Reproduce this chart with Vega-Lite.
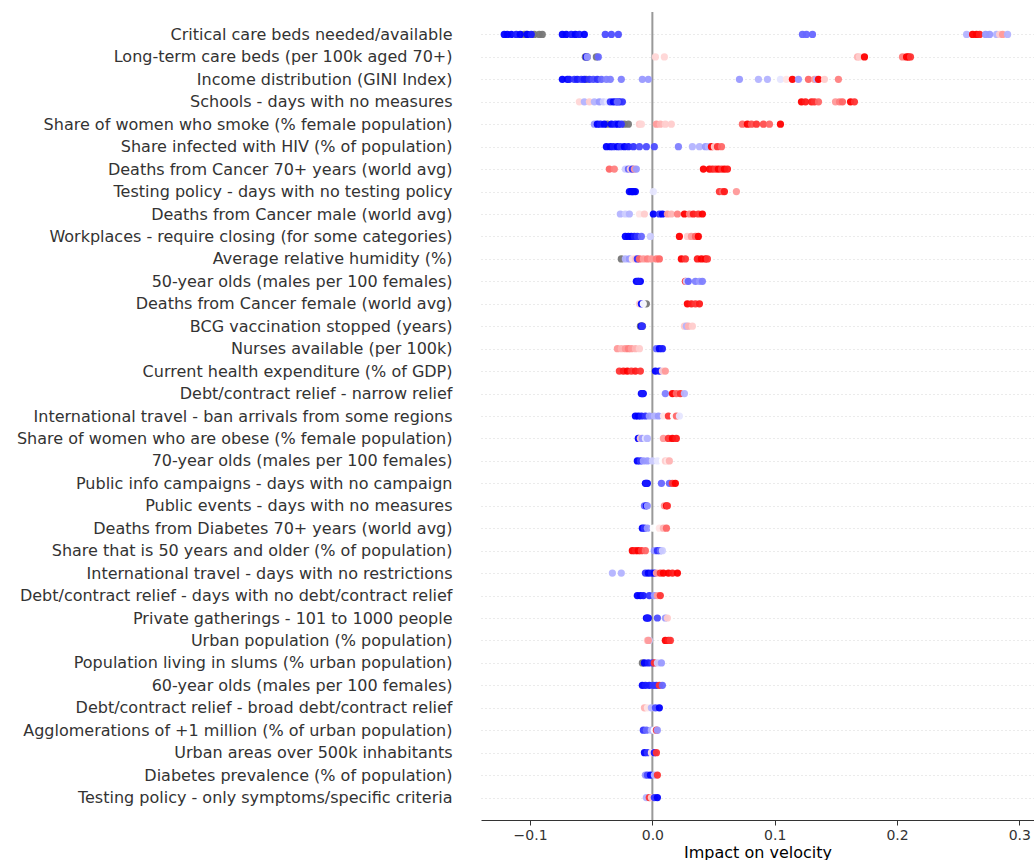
{
  "$schema": "https://vega.github.io/schema/vega-lite/v6.json",
  "width": 553,
  "height": 808,
  "autosize": {"type": "none"},
  "padding": {"left": 481, "top": 12, "right": 0, "bottom": 40},
  "background": "white",
  "config": {"view": {"stroke": null}, "font": "DejaVu Sans"},
  "datasets": {
    "features": [
      {"r": 0, "feature": "Critical care beds needed/available"},
      {"r": 1, "feature": "Long-term care beds (per 100k aged 70+)"},
      {"r": 2, "feature": "Income distribution (GINI Index)"},
      {"r": 3, "feature": "Schools - days with no measures"},
      {"r": 4, "feature": "Share of women who smoke (% female population)"},
      {"r": 5, "feature": "Share infected with HIV (% of population)"},
      {"r": 6, "feature": "Deaths from Cancer 70+ years (world avg)"},
      {"r": 7, "feature": "Testing policy - days with no testing policy"},
      {"r": 8, "feature": "Deaths from Cancer male (world avg)"},
      {"r": 9, "feature": "Workplaces - require closing (for some categories)"},
      {"r": 10, "feature": "Average relative humidity (%)"},
      {"r": 11, "feature": "50-year olds (males per 100 females)"},
      {"r": 12, "feature": "Deaths from Cancer female (world avg)"},
      {"r": 13, "feature": "BCG vaccination stopped (years)"},
      {"r": 14, "feature": "Nurses available (per 100k)"},
      {"r": 15, "feature": "Current health expenditure (% of GDP)"},
      {"r": 16, "feature": "Debt/contract relief - narrow relief"},
      {"r": 17, "feature": "International travel - ban arrivals from some regions"},
      {"r": 18, "feature": "Share of women who are obese (% female population)"},
      {"r": 19, "feature": "70-year olds (males per 100 females)"},
      {"r": 20, "feature": "Public info campaigns - days with no campaign"},
      {"r": 21, "feature": "Public events - days with no measures"},
      {"r": 22, "feature": "Deaths from Diabetes 70+ years (world avg)"},
      {"r": 23, "feature": "Share that is 50 years and older (% of population)"},
      {"r": 24, "feature": "International travel - days with no restrictions"},
      {"r": 25, "feature": "Debt/contract relief - days with no debt/contract relief"},
      {"r": 26, "feature": "Private gatherings - 101 to 1000 people"},
      {"r": 27, "feature": "Urban population (% population)"},
      {"r": 28, "feature": "Population living in slums (% urban population)"},
      {"r": 29, "feature": "60-year olds (males per 100 females)"},
      {"r": 30, "feature": "Debt/contract relief - broad debt/contract relief"},
      {"r": 31, "feature": "Agglomerations of +1 million (% of urban population)"},
      {"r": 32, "feature": "Urban areas over 500k inhabitants"},
      {"r": 33, "feature": "Diabetes prevalence (% of population)"},
      {"r": 34, "feature": "Testing policy - only symptoms/specific criteria"}
    ],
    "points": [
      {"r":0,"s":-0.1211,"v":0},{"r":0,"s":-0.1186,"v":0},{"r":0,"s":-0.1154,"v":0},{"r":0,"s":-0.1113,"v":0.05},{"r":0,"s":-0.108,"v":0},{"r":0,"s":-0.1047,"v":null},{"r":0,"s":-0.1031,"v":null},{"r":0,"s":-0.1023,"v":0},{"r":0,"s":-0.099,"v":0.05},{"r":0,"s":-0.0965,"v":null},{"r":0,"s":-0.0925,"v":null},{"r":0,"s":-0.09,"v":null},
      {"r":0,"s":-0.0736,"v":0},{"r":0,"s":-0.0704,"v":0},{"r":0,"s":-0.0663,"v":0.05},{"r":0,"s":-0.063,"v":0},{"r":0,"s":-0.0597,"v":0.05},{"r":0,"s":-0.0556,"v":0},
      {"r":0,"s":-0.0385,"v":0.15},{"r":0,"s":-0.0335,"v":0.15},{"r":0,"s":-0.0278,"v":0.15},
      {"r":0,"s":0.1227,"v":0.2},{"r":0,"s":0.126,"v":0.2},{"r":0,"s":0.1309,"v":0.2},
      {"r":0,"s":0.2569,"v":0.35},{"r":0,"s":0.2618,"v":1},{"r":0,"s":0.265,"v":1},{"r":0,"s":0.2675,"v":0.95},{"r":0,"s":0.2724,"v":0.3},{"r":0,"s":0.2757,"v":0.3},{"r":0,"s":0.2814,"v":0.35},{"r":0,"s":0.2839,"v":0.6},{"r":0,"s":0.2863,"v":0.7},{"r":0,"s":0.2904,"v":0.35},

      {"r":1,"s":-0.0548,"v":null},{"r":1,"s":-0.0532,"v":null},{"r":1,"s":-0.054,"v":0},{"r":1,"s":-0.0532,"v":0.3},{"r":1,"s":-0.0458,"v":null},{"r":1,"s":-0.0442,"v":0.2},{"r":1,"s":0.0025,"v":0.58},{"r":1,"s":0.0098,"v":0.58},{"r":1,"s":0.1677,"v":0.65},{"r":1,"s":0.1693,"v":0.6},{"r":1,"s":0.1734,"v":1},{"r":1,"s":0.2045,"v":0.75},{"r":1,"s":0.2078,"v":1},{"r":1,"s":0.2094,"v":1},{"r":1,"s":0.211,"v":0.9},

      {"r":2,"s":-0.0736,"v":0},{"r":2,"s":-0.0695,"v":0},{"r":2,"s":-0.0679,"v":0.05},{"r":2,"s":-0.0638,"v":0.1},{"r":2,"s":-0.0614,"v":0.05},{"r":2,"s":-0.0581,"v":0.1},{"r":2,"s":-0.0556,"v":0.05},{"r":2,"s":-0.054,"v":null},{"r":2,"s":-0.0515,"v":0.1},{"r":2,"s":-0.0483,"v":0.15},{"r":2,"s":-0.045,"v":0.1},{"r":2,"s":-0.0417,"v":0.2},{"r":2,"s":-0.0376,"v":0.25},{"r":2,"s":-0.0344,"v":0.25},{"r":2,"s":-0.0254,"v":0.25},{"r":2,"s":-0.0082,"v":0.3},{"r":2,"s":-0.0033,"v":0.3},
      {"r":2,"s":0.0712,"v":0.3},{"r":2,"s":0.0867,"v":0.35},{"r":2,"s":0.0941,"v":0.35},{"r":2,"s":0.1047,"v":0.45},{"r":2,"s":0.1096,"v":0.55},{"r":2,"s":0.1145,"v":1},{"r":2,"s":0.1194,"v":0.3},{"r":2,"s":0.1276,"v":0.8},{"r":2,"s":0.1325,"v":0.7},{"r":2,"s":0.1342,"v":0.35},{"r":2,"s":0.1358,"v":1},{"r":2,"s":0.1407,"v":0.6},{"r":2,"s":0.1521,"v":0.75},

      {"r":3,"s":-0.0597,"v":0.58},{"r":3,"s":-0.0556,"v":0.35},{"r":3,"s":-0.0515,"v":0.6},{"r":3,"s":-0.0474,"v":0.35},{"r":3,"s":-0.0434,"v":0.3},{"r":3,"s":-0.0401,"v":0.4},{"r":3,"s":-0.0368,"v":0.45},{"r":3,"s":-0.0344,"v":0.1},{"r":3,"s":-0.0319,"v":0},{"r":3,"s":-0.0295,"v":0.05},{"r":3,"s":-0.027,"v":0},{"r":3,"s":-0.0245,"v":0.1},{"r":3,"s":-0.0286,"v":0.2},
      {"r":3,"s":0.1219,"v":1},{"r":3,"s":0.1252,"v":0.95},{"r":3,"s":0.1301,"v":0.95},{"r":3,"s":0.1325,"v":0.9},{"r":3,"s":0.1358,"v":0.8},{"r":3,"s":0.1497,"v":0.7},{"r":3,"s":0.153,"v":0.75},{"r":3,"s":0.1554,"v":0.8},{"r":3,"s":0.162,"v":1},{"r":3,"s":0.1652,"v":0.9},

      {"r":4,"s":-0.0474,"v":0.3},{"r":4,"s":-0.045,"v":0},{"r":4,"s":-0.0425,"v":0.05},{"r":4,"s":-0.0393,"v":0},{"r":4,"s":-0.0368,"v":null},{"r":4,"s":-0.0335,"v":0},{"r":4,"s":-0.0303,"v":0.05},{"r":4,"s":-0.0278,"v":0},{"r":4,"s":-0.0254,"v":0.1},{"r":4,"s":-0.0229,"v":null},{"r":4,"s":-0.0196,"v":null},{"r":4,"s":-0.0106,"v":0.6},{"r":4,"s":-0.009,"v":0.58},{"r":4,"s":0.0033,"v":0.7},{"r":4,"s":0.0065,"v":0.65},{"r":4,"s":0.0106,"v":0.6},{"r":4,"s":0.0155,"v":0.6},
      {"r":4,"s":0.0736,"v":0.8},{"r":4,"s":0.0777,"v":1},{"r":4,"s":0.081,"v":0.85},{"r":4,"s":0.0851,"v":0.9},{"r":4,"s":0.0908,"v":0.85},{"r":4,"s":0.0957,"v":0.8},{"r":4,"s":0.1047,"v":1},

      {"r":5,"s":-0.0376,"v":0},{"r":5,"s":-0.0344,"v":0},{"r":5,"s":-0.0319,"v":0.05},{"r":5,"s":-0.0286,"v":0},{"r":5,"s":-0.0262,"v":0.1},{"r":5,"s":-0.0229,"v":0},{"r":5,"s":-0.0196,"v":0.05},{"r":5,"s":-0.0155,"v":0.1},{"r":5,"s":-0.0106,"v":0.15},{"r":5,"s":-0.0049,"v":0.15},{"r":5,"s":0.0016,"v":0.15},{"r":5,"s":0.0213,"v":0.25},{"r":5,"s":0.0327,"v":0.35},{"r":5,"s":0.0385,"v":0.35},{"r":5,"s":0.0434,"v":0.3},{"r":5,"s":0.0458,"v":0.35},{"r":5,"s":0.0483,"v":1},{"r":5,"s":0.0507,"v":0.6},{"r":5,"s":0.0532,"v":0.9},{"r":5,"s":0.0565,"v":0.8},

      {"r":6,"s":-0.0352,"v":0.8},{"r":6,"s":-0.0311,"v":0.75},{"r":6,"s":-0.0221,"v":0.4},{"r":6,"s":-0.0196,"v":0.2},{"r":6,"s":-0.018,"v":0.6},{"r":6,"s":-0.0164,"v":0.1},{"r":6,"s":-0.0147,"v":0.7},{"r":6,"s":-0.0131,"v":0.3},{"r":6,"s":0.0417,"v":1},{"r":6,"s":0.0466,"v":1},{"r":6,"s":0.0491,"v":0.95},{"r":6,"s":0.0516,"v":0.9},{"r":6,"s":0.054,"v":1},{"r":6,"s":0.0565,"v":0.9},{"r":6,"s":0.0589,"v":1},{"r":6,"s":0.0614,"v":0.95},

      {"r":7,"s":-0.0188,"v":0},{"r":7,"s":-0.0172,"v":0},{"r":7,"s":-0.0155,"v":0},{"r":7,"s":-0.0139,"v":0},{"r":7,"s":-0.0164,"v":0},{"r":7,"s":0.0008,"v":0.45},{"r":7,"s":0.0548,"v":0.9},{"r":7,"s":0.0573,"v":0.8},{"r":7,"s":0.0589,"v":0.95},{"r":7,"s":0.0687,"v":0.7},

      {"r":8,"s":-0.0262,"v":0.35},{"r":8,"s":-0.0221,"v":0.4},{"r":8,"s":-0.0188,"v":0.35},{"r":8,"s":-0.0106,"v":0.55},{"r":8,"s":-0.0065,"v":0.6},{"r":8,"s":0.0008,"v":0},{"r":8,"s":0.0057,"v":0.1},{"r":8,"s":0.0082,"v":0},{"r":8,"s":0.0123,"v":0.7},{"r":8,"s":0.0155,"v":0.65},{"r":8,"s":0.0205,"v":0.75},{"r":8,"s":0.0262,"v":1},{"r":8,"s":0.0303,"v":0.75},{"r":8,"s":0.0335,"v":0.95},{"r":8,"s":0.0376,"v":0.9},{"r":8,"s":0.0409,"v":1},

      {"r":9,"s":-0.0221,"v":0},{"r":9,"s":-0.0196,"v":0},{"r":9,"s":-0.0172,"v":0},{"r":9,"s":-0.0147,"v":0.05},{"r":9,"s":-0.0123,"v":0.1},{"r":9,"s":-0.009,"v":0.2},{"r":9,"s":-0.0016,"v":0.4},{"r":9,"s":0.0221,"v":1},{"r":9,"s":0.0286,"v":0.6},{"r":9,"s":0.0319,"v":0.7},{"r":9,"s":0.0352,"v":0.8},{"r":9,"s":0.0376,"v":1},

      {"r":10,"s":-0.0254,"v":null},{"r":10,"s":-0.0221,"v":0.35},{"r":10,"s":-0.0188,"v":0.3},{"r":10,"s":-0.0164,"v":0.55},{"r":10,"s":-0.0139,"v":0.6},{"r":10,"s":-0.0123,"v":0.1},{"r":10,"s":-0.0106,"v":0.8},{"r":10,"s":-0.0074,"v":0.7},{"r":10,"s":-0.0041,"v":0.75},{"r":10,"s":-0.0008,"v":0.7},{"r":10,"s":0.0033,"v":0.75},{"r":10,"s":0.0057,"v":0.8},{"r":10,"s":0.0237,"v":1},{"r":10,"s":0.027,"v":0.9},{"r":10,"s":0.0368,"v":0.95},{"r":10,"s":0.0401,"v":1},{"r":10,"s":0.0434,"v":1},{"r":10,"s":0.045,"v":0.9},

      {"r":11,"s":-0.0131,"v":0},{"r":11,"s":-0.0115,"v":0},{"r":11,"s":-0.0098,"v":0},{"r":11,"s":-0.0115,"v":0.05},{"r":11,"s":0.027,"v":0.9},{"r":11,"s":0.0278,"v":0.4},{"r":11,"s":0.0294,"v":0.2},{"r":11,"s":0.0352,"v":0.25},{"r":11,"s":0.0385,"v":0.3},{"r":11,"s":0.0409,"v":0.25},

      {"r":12,"s":-0.0106,"v":0.6},{"r":12,"s":-0.009,"v":0},{"r":12,"s":-0.0074,"v":0.5},{"r":12,"s":-0.0049,"v":null},{"r":12,"s":0.0286,"v":1},{"r":12,"s":0.0319,"v":0.95},{"r":12,"s":0.0352,"v":0.9},{"r":12,"s":0.0385,"v":0.95},

      {"r":13,"s":-0.0098,"v":null},{"r":13,"s":-0.0082,"v":null},{"r":13,"s":-0.009,"v":0},{"r":13,"s":-0.0082,"v":0.1},{"r":13,"s":0.0262,"v":0.6},{"r":13,"s":0.0278,"v":0.35},{"r":13,"s":0.0294,"v":0.65},{"r":13,"s":0.0327,"v":0.6},

      {"r":14,"s":-0.0286,"v":0.7},{"r":14,"s":-0.0254,"v":0.65},{"r":14,"s":-0.0221,"v":0.7},{"r":14,"s":-0.0196,"v":0.75},{"r":14,"s":-0.0172,"v":0.7},{"r":14,"s":-0.0139,"v":0.65},{"r":14,"s":-0.0106,"v":0.6},{"r":14,"s":0.0033,"v":0.2},{"r":14,"s":0.0057,"v":0},{"r":14,"s":0.0082,"v":0.05},

      {"r":15,"s":-0.027,"v":0.9},{"r":15,"s":-0.0237,"v":0.95},{"r":15,"s":-0.0205,"v":1},{"r":15,"s":-0.0172,"v":0.9},{"r":15,"s":-0.0139,"v":0.95},{"r":15,"s":-0.0098,"v":0.9},{"r":15,"s":0.0025,"v":0},{"r":15,"s":0.0057,"v":0.05},{"r":15,"s":0.0082,"v":0.6},{"r":15,"s":0.0106,"v":0.7},

      {"r":16,"s":-0.009,"v":0},{"r":16,"s":-0.0074,"v":0},{"r":16,"s":-0.0082,"v":0.05},{"r":16,"s":0.0106,"v":0.25},{"r":16,"s":0.0164,"v":1},{"r":16,"s":0.0196,"v":0.8},{"r":16,"s":0.0229,"v":0.9},{"r":16,"s":0.0262,"v":0.35},

      {"r":17,"s":-0.0139,"v":0},{"r":17,"s":-0.0115,"v":0},{"r":17,"s":-0.009,"v":0.05},{"r":17,"s":-0.0057,"v":0.1},{"r":17,"s":-0.0025,"v":0.3},{"r":17,"s":0.0016,"v":0.35},{"r":17,"s":0.0049,"v":0.3},{"r":17,"s":0.009,"v":0.55},{"r":17,"s":0.0131,"v":0.9},{"r":17,"s":0.0172,"v":0.5},{"r":17,"s":0.0196,"v":0.8},{"r":17,"s":0.0221,"v":0.45},

      {"r":18,"s":-0.0115,"v":0},{"r":18,"s":-0.0098,"v":0.6},{"r":18,"s":-0.0082,"v":0.3},{"r":18,"s":-0.0057,"v":0.45},{"r":18,"s":-0.0041,"v":0.35},{"r":18,"s":0.009,"v":0.7},{"r":18,"s":0.0131,"v":0.9},{"r":18,"s":0.0164,"v":1},{"r":18,"s":0.0196,"v":0.95},

      {"r":19,"s":-0.0123,"v":0},{"r":19,"s":-0.0098,"v":0.1},{"r":19,"s":-0.0074,"v":0.3},{"r":19,"s":-0.0041,"v":0.3},{"r":19,"s":0.0,"v":0.4},{"r":19,"s":0.0041,"v":0.45},{"r":19,"s":0.0082,"v":0.5},{"r":19,"s":0.0106,"v":0.6},{"r":19,"s":0.0123,"v":0.55},{"r":19,"s":0.0139,"v":0.65},

      {"r":20,"s":-0.0057,"v":0},{"r":20,"s":-0.0041,"v":0},{"r":20,"s":-0.0049,"v":0.05},{"r":20,"s":0.0074,"v":0.2},{"r":20,"s":0.0139,"v":0.2},{"r":20,"s":0.0164,"v":0.9},{"r":20,"s":0.0188,"v":1},

      {"r":21,"s":-0.0065,"v":0.2},{"r":21,"s":-0.0049,"v":0},{"r":21,"s":-0.0041,"v":0.3},{"r":21,"s":0.0098,"v":0.7},{"r":21,"s":0.0115,"v":1},{"r":21,"s":0.0123,"v":0.9},

      {"r":22,"s":-0.0082,"v":0},{"r":22,"s":-0.0065,"v":0.1},{"r":22,"s":-0.0041,"v":0.3},{"r":22,"s":0.0008,"v":0.5},{"r":22,"s":0.0057,"v":0.55},{"r":22,"s":0.009,"v":0.65},{"r":22,"s":0.0115,"v":0.8},

      {"r":23,"s":-0.0164,"v":1},{"r":23,"s":-0.0139,"v":0.95},{"r":23,"s":-0.0115,"v":1},{"r":23,"s":-0.009,"v":0.9},{"r":23,"s":-0.0057,"v":0.8},{"r":23,"s":0.0016,"v":0.3},{"r":23,"s":0.0041,"v":0.1},{"r":23,"s":0.0065,"v":0.2},{"r":23,"s":0.0082,"v":0.4},

      {"r":24,"s":-0.0327,"v":0.35},{"r":24,"s":-0.0254,"v":0.35},{"r":24,"s":-0.0057,"v":0.1},{"r":24,"s":-0.0033,"v":0},{"r":24,"s":-0.0008,"v":0.05},{"r":24,"s":0.0016,"v":0},{"r":24,"s":0.0033,"v":0.7},{"r":24,"s":0.0065,"v":0.9},{"r":24,"s":0.009,"v":1},{"r":24,"s":0.0131,"v":1},{"r":24,"s":0.0164,"v":0.95},{"r":24,"s":0.0205,"v":1},

      {"r":25,"s":-0.0123,"v":0},{"r":25,"s":-0.0098,"v":0},{"r":25,"s":-0.0074,"v":0.05},{"r":25,"s":-0.0025,"v":0.1},{"r":25,"s":0.0016,"v":0.3},{"r":25,"s":0.0041,"v":0.7},{"r":25,"s":0.0065,"v":0.9},

      {"r":26,"s":-0.0049,"v":0},{"r":26,"s":-0.0033,"v":0},{"r":26,"s":-0.0041,"v":0.05},{"r":26,"s":0.0041,"v":0.15},{"r":26,"s":0.0106,"v":0.3},{"r":26,"s":0.0123,"v":0.6},

      {"r":27,"s":-0.0041,"v":0.6},{"r":27,"s":-0.0025,"v":0.4},{"r":27,"s":-0.0033,"v":0.7},{"r":27,"s":0.0106,"v":1},{"r":27,"s":0.0131,"v":0.95},{"r":27,"s":0.0147,"v":0.9},

      {"r":28,"s":-0.0082,"v":null},{"r":28,"s":-0.0065,"v":0},{"r":28,"s":-0.0033,"v":0.05},{"r":28,"s":0.0,"v":0.1},{"r":28,"s":0.0016,"v":0.9},{"r":28,"s":0.0041,"v":0.4},{"r":28,"s":0.0074,"v":0.3},

      {"r":29,"s":-0.0082,"v":0},{"r":29,"s":-0.0057,"v":0.05},{"r":29,"s":-0.0025,"v":0.05},{"r":29,"s":0.0008,"v":0.1},{"r":29,"s":0.0033,"v":0.1},{"r":29,"s":0.0057,"v":0.9},{"r":29,"s":0.0082,"v":0.2},

      {"r":30,"s":-0.0065,"v":0.65},{"r":30,"s":-0.0041,"v":0.55},{"r":30,"s":-0.0008,"v":0.35},{"r":30,"s":0.0025,"v":0.15},{"r":30,"s":0.0057,"v":0},

      {"r":31,"s":-0.0074,"v":0.1},{"r":31,"s":-0.0049,"v":0.2},{"r":31,"s":-0.0008,"v":0.35},{"r":31,"s":0.0016,"v":0.5},{"r":31,"s":0.0033,"v":0.9},{"r":31,"s":0.0041,"v":0.3},

      {"r":32,"s":-0.0065,"v":0},{"r":32,"s":-0.0041,"v":0.1},{"r":32,"s":-0.0008,"v":0.55},{"r":32,"s":0.0016,"v":0.05},{"r":32,"s":0.0033,"v":0.9},

      {"r":33,"s":-0.0057,"v":0.3},{"r":33,"s":-0.0041,"v":0.15},{"r":33,"s":-0.0016,"v":0},{"r":33,"s":0.0016,"v":0.35},{"r":33,"s":0.0041,"v":0.9},

      {"r":34,"s":-0.0049,"v":0.35},{"r":34,"s":-0.0025,"v":0.9},{"r":34,"s":-0.0008,"v":0.6},{"r":34,"s":0.0016,"v":0.1},{"r":34,"s":0.0041,"v":0}
    ]
  },
  "data": {"name": "points"},
  "transform": [
    {"lookup": "r", "from": {"data": {"name": "features"}, "key": "r", "fields": ["feature"]}}
  ],
  "encoding": {
    "y": {
      "field": "feature",
      "type": "nominal",
      "scale": {
        "type": "point",
        "padding": 1,
        "domain": [
          "Critical care beds needed/available",
          "Long-term care beds (per 100k aged 70+)",
          "Income distribution (GINI Index)",
          "Schools - days with no measures",
          "Share of women who smoke (% female population)",
          "Share infected with HIV (% of population)",
          "Deaths from Cancer 70+ years (world avg)",
          "Testing policy - days with no testing policy",
          "Deaths from Cancer male (world avg)",
          "Workplaces - require closing (for some categories)",
          "Average relative humidity (%)",
          "50-year olds (males per 100 females)",
          "Deaths from Cancer female (world avg)",
          "BCG vaccination stopped (years)",
          "Nurses available (per 100k)",
          "Current health expenditure (% of GDP)",
          "Debt/contract relief - narrow relief",
          "International travel - ban arrivals from some regions",
          "Share of women who are obese (% female population)",
          "70-year olds (males per 100 females)",
          "Public info campaigns - days with no campaign",
          "Public events - days with no measures",
          "Deaths from Diabetes 70+ years (world avg)",
          "Share that is 50 years and older (% of population)",
          "International travel - days with no restrictions",
          "Debt/contract relief - days with no debt/contract relief",
          "Private gatherings - 101 to 1000 people",
          "Urban population (% population)",
          "Population living in slums (% urban population)",
          "60-year olds (males per 100 females)",
          "Debt/contract relief - broad debt/contract relief",
          "Agglomerations of +1 million (% of urban population)",
          "Urban areas over 500k inhabitants",
          "Diabetes prevalence (% of population)",
          "Testing policy - only symptoms/specific criteria"
        ]
      },
      "axis": {
        "title": null,
        "domain": false,
        "ticks": false,
        "grid": true,
        "gridColor": "#cccccc",
        "gridDash": [1, 3],
        "gridWidth": 0.8,
        "labelFont": "DejaVu Sans",
        "labelFontSize": 16,
        "labelColor": "#333333",
        "labelPadding": 29,
        "labelLimit": 0
      }
    }
  },
  "layer": [
    {
      "data": {"values": [{"zero": 0}]},
      "mark": {"type": "rule", "color": "#999999", "strokeWidth": 2},
      "encoding": {
        "x": {"field": "zero", "type": "quantitative"},
        "y": null
      }
    },
    {
      "transform": [{"filter": "datum.v === null"}],
      "mark": {"type": "circle", "size": 52, "opacity": 0.95, "color": "#777777"},
      "encoding": {
        "x": {"field": "s", "type": "quantitative"}
      }
    },
    {
      "transform": [{"filter": "datum.v !== null"}],
      "mark": {"type": "circle", "size": 52, "opacity": 0.95},
      "encoding": {
        "x": {
          "field": "s",
          "type": "quantitative",
          "scale": {"domain": [-0.1401, 0.312], "nice": false, "zero": false},
          "axis": {
            "title": "Impact on velocity",
            "values": [-0.1, 0, 0.1, 0.2, 0.3],
            "format": ".1f",
            "grid": false,
            "domainColor": "#333333",
            "tickColor": "#333333",
            "tickSize": 5,
            "labelFont": "DejaVu Sans",
            "labelFontSize": 14,
            "labelColor": "#333333",
            "labelPadding": 3,
            "titleFont": "DejaVu Sans",
            "titleFontSize": 16,
            "titleFontWeight": "normal",
            "titleColor": "#000000",
            "titlePadding": 2
          }
        },
        "color": {
          "field": "v",
          "type": "quantitative",
          "scale": {"domain": [0, 0.5, 1], "range": ["#0000ff", "#ffffff", "#ff0000"], "interpolate": "rgb"},
          "legend": null
        }
      }
    }
  ]
}
